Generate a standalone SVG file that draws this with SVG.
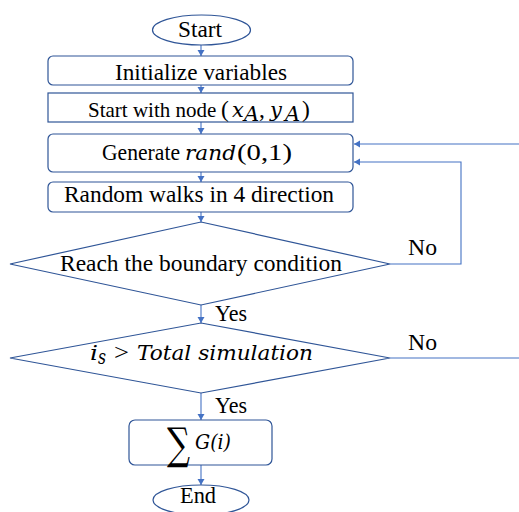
<svg xmlns="http://www.w3.org/2000/svg" width="519" height="512" viewBox="0 0 519 512">
<style>
.s{fill:#fff;stroke:#2F5597;stroke-width:1.2}
.c{fill:none;stroke:#4472C4;stroke-width:1.1}
.t{font-family:"Liberation Serif","Times New Roman",serif;font-size:23.5px;fill:#000}
.m{font-family:"DejaVu Serif","Liberation Serif",serif;font-style:italic;font-size:21px;fill:#000}
</style>
<defs>
<marker id="ah" markerUnits="userSpaceOnUse" markerWidth="8" markerHeight="8" refX="6" refY="3.5" orient="auto">
<path d="M0,0 L6,3.5 L0,7 Z" fill="#4472C4"/>
</marker>
</defs>
<rect width="519" height="512" fill="#fff"/>
<g id="connectors">
<line class="c" x1="201" y1="45" x2="201" y2="56" marker-end="url(#ah)"/>
<line class="c" x1="201" y1="85" x2="201" y2="93" marker-end="url(#ah)"/>
<line class="c" x1="201" y1="122" x2="201" y2="134" marker-end="url(#ah)"/>
<line class="c" x1="201" y1="172" x2="201" y2="182" marker-end="url(#ah)"/>
<line class="c" x1="201" y1="212" x2="201" y2="222" marker-end="url(#ah)"/>
<line class="c" x1="201" y1="304" x2="201" y2="323" marker-end="url(#ah)"/>
<line class="c" x1="201" y1="393" x2="201" y2="420" marker-end="url(#ah)"/>
<line class="c" x1="201" y1="465" x2="201" y2="485" marker-end="url(#ah)"/>
<polyline class="c" points="390,264 461,264 461,162 354,162" marker-end="url(#ah)"/>
<line class="c" x1="519" y1="144" x2="354" y2="144" marker-end="url(#ah)"/>
<line class="c" x1="390" y1="358" x2="519" y2="358"/>
<text class="t" x="408" y="255" textLength="29" lengthAdjust="spacingAndGlyphs">No</text>
<text class="t" x="408" y="350" textLength="29" lengthAdjust="spacingAndGlyphs">No</text>
<text class="t" x="215" y="321" textLength="32" lengthAdjust="spacingAndGlyphs">Yes</text>
<text class="t" x="215" y="413" textLength="32" lengthAdjust="spacingAndGlyphs">Yes</text>
</g>
<g id="start">
<ellipse class="s" cx="201.5" cy="30" rx="49" ry="15"/>
<text class="t" x="178" y="37" textLength="44" lengthAdjust="spacingAndGlyphs">Start</text>
</g>
<g id="init">
<rect class="s" x="48" y="56" width="305" height="29" rx="5"/>
<text class="t" x="115" y="80" textLength="172" lengthAdjust="spacingAndGlyphs">Initialize variables</text>
</g>
<g id="startnode">
<rect class="s" x="48" y="93" width="305" height="29"/>
<text class="t" y="117"><tspan x="88" font-size="21">Start with node</tspan><tspan x="221">(</tspan><tspan class="m" x="232">x</tspan><tspan class="m" x="244" y="121" font-size="14">A</tspan><tspan x="259" y="117">,</tspan><tspan class="m" x="270">y</tspan><tspan class="m" x="285" y="121" font-size="14">A</tspan><tspan x="302" y="117">)</tspan></text>
</g>
<g id="generate">
<rect class="s" x="48" y="134" width="305" height="38" rx="5"/>
<text class="t" x="102" y="160" textLength="78" lengthAdjust="spacingAndGlyphs">Generate</text>
<text class="m" x="185" y="160" textLength="51" lengthAdjust="spacingAndGlyphs">rand</text>
<text class="t" x="237" y="160" textLength="55" lengthAdjust="spacingAndGlyphs">(0,1)</text>
</g>
<g id="walk">
<rect class="s" x="48" y="182" width="305" height="30" rx="5"/>
<text class="t" x="64" y="202" textLength="270" lengthAdjust="spacingAndGlyphs">Random walks in 4 direction</text>
</g>
<g id="boundary">
<polygon class="s" points="201,222 390,264 201,305 10,264"/>
<text class="t" x="60" y="271" textLength="282" lengthAdjust="spacingAndGlyphs">Reach the boundary condition</text>
</g>
<g id="total">
<polygon class="s" points="201,323 390,358 201,393 10,358"/>
<text class="m" x="90" y="360" textLength="8" lengthAdjust="spacingAndGlyphs">i</text>
<text class="m" x="98" y="364" font-size="14" textLength="8" lengthAdjust="spacingAndGlyphs">s</text>
<text class="t" x="114" y="360" textLength="15" lengthAdjust="spacingAndGlyphs">&gt;</text>
<text class="m" x="137" y="360" textLength="176" lengthAdjust="spacingAndGlyphs">Total simulation</text>
</g>
<g id="sum">
<rect class="s" x="129" y="420" width="143" height="45" rx="6"/>
<text x="167" y="459" font-family="DejaVu Serif, serif" font-size="44" textLength="23" lengthAdjust="spacingAndGlyphs">∑</text>
<text class="m" x="195" y="449" font-size="17" textLength="36" lengthAdjust="spacingAndGlyphs">G(i)</text>
</g>
<g id="end">
<ellipse class="s" cx="201" cy="500" rx="48" ry="15"/>
<text class="t" x="180" y="503" textLength="36" lengthAdjust="spacingAndGlyphs">End</text>
</g>
</svg>
